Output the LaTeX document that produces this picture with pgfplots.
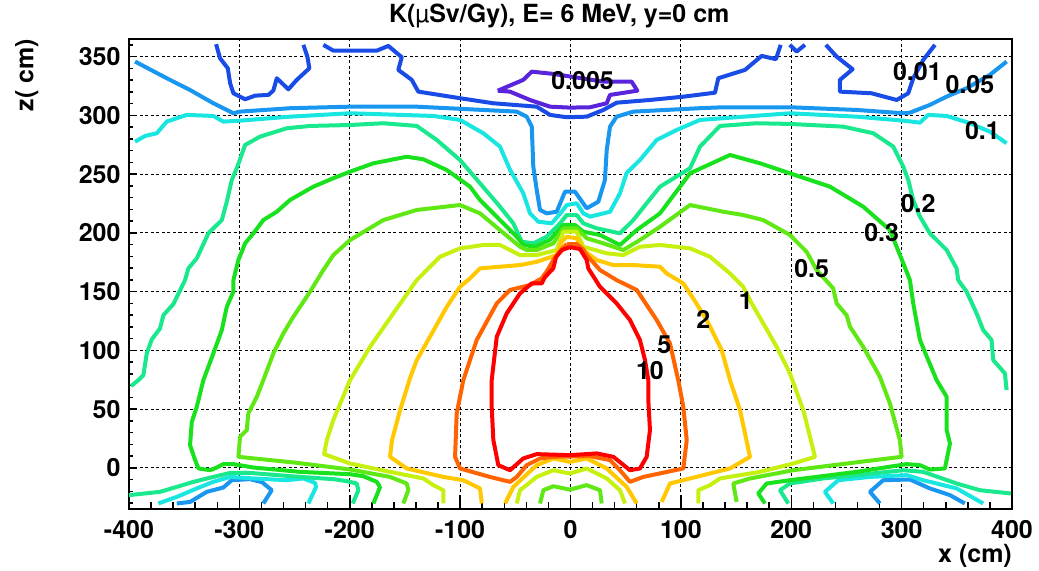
\documentclass[border=0pt]{standalone}
\usepackage{fontspec}
\setmainfont{TeX Gyre Heros}
\usepackage{pgfplots}
\pgfplotsset{compat=1.18}
\definecolor{cA}{RGB}{90,35,220}
\definecolor{cB}{RGB}{25,75,230}
\definecolor{cC}{RGB}{25,150,240}
\definecolor{cD}{RGB}{25,230,225}
\definecolor{cE}{RGB}{25,232,140}
\definecolor{cF}{RGB}{25,225,30}
\definecolor{cG}{RGB}{95,232,20}
\definecolor{cH}{RGB}{198,240,15}
\definecolor{cI}{RGB}{255,200,0}
\definecolor{cJ}{RGB}{255,100,0}
\definecolor{cK}{RGB}{255,0,0}
\begin{document}
\begin{tikzpicture}[font=\fontsize{25}{30}\selectfont\bfseries]
\begin{axis}[
  name=ax,
  scale only axis,
  width=883pt, height=470pt,
  xmin=-400, xmax=400, ymin=-35, ymax=365,
  xtick={-400,-300,...,400},
  xticklabels={-400,-300,-200,-100,0,100,200,300,400},
  ytick={0,50,...,350},
  yticklabels={0,50,100,150,200,250,300,350},
  minor xtick={-380,-360,...,380},
  minor ytick={-30,-20,...,360},
  tick pos=left,
  tick align=inside,
  grid=major,
  major grid style={black, line width=1.1pt, dash pattern=on 3pt off 2.5pt},
  axis line style={line width=1.7pt},
  tick style={black, line width=1.5pt},
  xtick style={/pgfplots/major tick length=14pt,/pgfplots/minor tick length=7pt},
  ytick style={/pgfplots/major tick length=8pt,/pgfplots/minor tick length=4pt},
  xticklabel style={anchor=north, inner sep=0pt, yshift=-11pt},
  yticklabel style={anchor=east, inner sep=0pt, xshift=-8.3pt},
  title={K({\mdseries µ}Sv/Gy), E= 6 MeV, y=0 cm},
  title style={at={(axis description cs:0.4872,1)}, anchor=base, yshift=10.7pt, inner sep=0pt},
  xlabel={x (cm)},
  xlabel style={at={(axis description cs:1,0)}, anchor=base east, yshift=-54pt, inner sep=0pt},
  ylabel={z( cm)},
  ylabel style={at={([xshift=-95.7pt]axis description cs:0,1)}, anchor=base east, inner sep=0pt},
  every axis plot/.append style={line width=4pt, line join=round, no markers},
]
% 0.005
\addplot[cA] coordinates {(-65.9,321.0) (-42.8,330.2) (-35.1,337.2) (-15.6,335.3) (29.7,328.7) (55.4,328.7) (60.5,321.0) (35.8,317.4) (32.8,310.3) (17.7,306.9) (-0.5,306.6) (-18.6,307.4) (-36.7,313.1) (-54.8,320.2) (-65.9,321.0)};
% 0.01
\addplot[cB] coordinates {(-321.1,360.6) (-317.5,348.6) (-310.5,340.1) (-308.4,327.4) (-305.4,318.8) (-294.8,313.7) (-285.7,316.8) (-273.7,317.4) (-269.2,321.1) (-266.1,331.6) (-255.6,322.2) (-248.0,330.2) (-236.6,340.1) (-238.4,350.0) (-242.0,360.0)};
\addplot[cB] coordinates {(-223.9,360.0) (-214.9,355.1) (-199.7,355.1) (-175.5,355.1) (-165.0,359.1) (-152.9,349.5) (-156.0,338.7) (-143.8,330.2) (-137.9,320.2) (-100.1,314.6) (-69.9,310.3) (-30.6,307.4) (-18.6,300.4) (-3.4,298.4) (14.7,298.9) (29.7,304.6) (41.8,310.8) (72.0,313.1) (102.2,315.9) (130.9,319.3) (133.9,331.6) (158.1,338.7) (173.2,350.6) (186.1,347.8) (190.4,360.0)};
\addplot[cB] coordinates {(198.7,360.0) (204.9,354.3) (212.4,360.0)};
\addplot[cB] coordinates {(231.4,360.0) (241.1,350.0) (255.6,339.3) (244.1,330.2) (244.1,320.2) (272.8,318.8) (295.5,313.1) (306.0,318.8) (310.5,331.6) (319.6,347.2) (330.2,360.0)};
% 0.05
\addplot[cC] coordinates {(-394.5,345.8) (-365.8,331.6) (-344.7,321.6) (-323.6,310.3) (-305.4,301.8) (-299.4,303.2) (-254.1,306.1) (-199.7,307.4) (-139.3,307.4) (-79.0,304.6) (-48.7,303.2) (-39.7,298.9) (-35.1,290.4) (-33.7,256.3) (-30.6,236.5) (-27.6,219.5) (-21.6,216.6) (-12.5,218.0) (-5.0,235.0) (4.1,235.0) (14.7,220.9) (25.2,226.5) (31.2,245.0) (32.8,270.5) (35.8,290.4) (41.8,298.9) (56.9,303.2) (117.3,306.1) (138.4,306.9) (198.8,306.9) (259.2,304.6) (301.5,301.8) (307.5,302.3) (325.6,308.9) (340.8,316.0) (358.9,323.1) (380.0,334.5) (395.1,345.8)};
\addplot[cC] coordinates {(-356.7,-30.3) (-344.7,-29.0) (-329.5,-20.4) (-314.5,-16.7) (-306.9,-10.5) (-290.3,-9.6) (-279.4,-12.2) (-270.7,-19.0) (-278.3,-30.3)};
\addplot[cC] coordinates {(357.3,-30.3) (343.8,-23.2) (325.6,-17.5) (307.5,-9.9) (283.3,-10.5) (271.3,-20.4) (280.3,-30.3)};
% 0.1
\addplot[cD] coordinates {(-394.5,277.6) (-385.4,282.5) (-374.8,284.8) (-365.8,294.7) (-347.7,300.4) (-323.6,299.5) (-314.5,294.7) (-299.4,295.5) (-254.1,298.9) (-199.7,301.8) (-124.3,299.5) (-100.1,296.1) (-79.0,284.8) (-63.9,273.4) (-54.8,253.7) (-42.8,233.7) (-36.7,216.6) (-29.2,209.5) (-17.0,208.1) (-8.0,218.0) (-3.4,223.7) (5.6,225.2) (11.6,216.6) (17.7,213.8) (35.8,218.0) (44.8,233.7) (50.9,251.0) (62.9,262.0) (78.1,279.1) (96.2,287.6) (117.3,296.1) (198.8,301.8) (259.2,298.9) (301.5,295.5) (316.6,293.8) (324.1,300.4) (340.8,299.5) (361.9,293.3) (380.0,286.1) (395.1,276.3)};
\addplot[cD] coordinates {(-373.4,-30.3) (-356.7,-24.7) (-338.6,-17.5) (-323.6,-11.9) (-308.4,-7.7) (-287.3,-9.0) (-257.1,-10.5) (-242.0,-9.0) (-231.4,-12.8) (-230.5,-16.2) (-237.5,-30.3)};
\addplot[cD] coordinates {(373.9,-30.3) (349.8,-17.5) (319.6,-10.5) (304.5,-6.2) (271.3,-7.7) (242.6,-10.5) (230.5,-20.4) (238.0,-30.3)};
% 0.2
\addplot[cE] coordinates {(-398.1,69.6) (-391.5,74.7) (-387.0,78.9) (-383.9,97.4) (-379.4,109.3) (-371.9,118.7) (-368.8,130.0) (-359.8,139.4) (-352.2,154.1) (-349.2,159.8) (-346.2,169.8) (-338.6,178.3) (-328.1,199.6) (-315.9,210.9) (-311.4,226.5) (-306.9,245.0) (-301.8,256.3) (-294.8,274.8) (-281.3,281.9) (-257.1,289.0) (-236.0,291.0) (-199.7,291.8) (-169.6,293.3) (-139.3,291.0) (-121.2,279.1) (-100.1,262.0) (-82.0,242.2) (-63.9,222.3) (-51.8,208.1) (-44.2,192.5) (-33.7,191.1) (-21.6,196.7) (-9.5,208.1) (-3.4,215.2) (5.6,215.2) (11.6,208.1) (23.7,203.9) (44.8,199.6) (56.9,210.9) (69.0,225.2) (81.1,239.3) (108.3,255.0) (117.3,273.4) (135.4,291.0) (168.7,293.3) (198.8,292.7) (247.1,290.4) (274.3,284.8) (292.4,273.4) (301.5,256.3) (306.0,245.0) (310.5,228.0) (316.6,213.8) (325.6,199.6) (340.8,185.4) (349.8,169.8) (351.3,159.8) (358.9,149.9) (367.9,131.5) (373.9,117.3) (381.5,108.8) (383.0,91.7) (393.6,80.4) (395.1,66.2)};
\addplot[cE] coordinates {(-400,-23.2) (-371.9,-20.4) (-356.7,-16.2) (-341.7,-11.9) (-323.6,-7.7) (-308.4,-4.3) (-290.3,-4.3) (-245.0,-7.7) (-214.9,-9.6) (-202.7,-11.3) (-193.7,-13.3) (-192.2,-19.0) (-197.3,-30.3)};
\addplot[cE] coordinates {(399.0,-21.8) (370.9,-19.0) (349.8,-13.3) (319.6,-3.4) (301.5,-2.0) (259.2,-6.2) (229.0,-9.0) (198.8,-13.3) (189.8,-19.0) (197.3,-30.3)};
% 0.3
\addplot[cF] coordinates {(-178.6,-30.3) (-172.6,-16.4) (-175.5,-11.9) (-187.7,-7.1) (-199.7,-5.4) (-245.0,-3.4) (-287.3,0.3) (-305.4,3.2) (-314.5,3.2) (-320.5,0.3) (-326.5,-2.0) (-337.1,-0.5) (-340.1,6.6) (-344.7,19.3) (-343.1,39.2) (-338.6,51.9) (-332.6,74.7) (-323.6,97.4) (-315.9,117.3) (-311.4,137.1) (-305.4,149.9) (-305.4,159.8) (-300.9,176.9) (-294.8,191.1) (-287.3,199.6) (-278.3,210.9) (-266.1,218.0) (-254.1,228.0) (-233.0,239.3) (-214.9,246.5) (-199.7,252.1) (-178.6,259.2) (-163.5,262.0) (-148.4,264.8) (-133.3,262.6) (-112.1,253.5) (-91.0,239.3) (-82.0,228.0) (-63.9,210.9) (-48.7,196.7) (-42.8,189.7) (-32.2,188.2) (-18.6,194.1) (-6.5,206.7) (4.1,206.7) (11.6,201.0) (26.7,198.2) (44.8,189.7) (60.0,202.4) (81.1,216.6) (108.3,250.7) (144.5,266.3) (171.7,259.2) (198.8,250.7) (235.1,239.3) (265.2,222.3) (289.4,202.4) (301.5,174.1) (307.5,159.8) (310.5,140.0) (316.6,108.8) (324.1,91.7) (331.7,74.7) (340.8,60.5) (340.8,32.1) (343.8,20.8) (339.2,-0.5) (325.6,-1.4) (316.6,2.3) (304.5,3.2) (259.2,-3.4) (198.8,-10.5) (177.7,-13.3) (170.1,-21.8) (176.2,-30.3)};
% 0.5
\addplot[cG] coordinates {(-151.5,-30.3) (-146.9,-19.0) (-148.4,-13.3) (-163.5,-7.7) (-199.7,-1.4) (-248.0,4.3) (-300.9,9.4) (-299.4,26.4) (-293.3,32.1) (-291.9,46.3) (-284.2,60.5) (-278.3,74.7) (-269.2,97.4) (-260.1,114.5) (-251.1,128.6) (-236.0,149.9) (-223.9,168.4) (-214.9,181.1) (-199.7,193.9) (-169.6,210.9) (-139.3,219.5) (-100.1,223.7) (-82.0,216.6) (-63.9,202.4) (-45.7,188.2) (-39.7,185.4) (-30.6,185.4) (-15.6,191.1) (-6.5,203.9) (5.6,203.9) (14.7,195.4) (29.7,191.1) (47.8,185.4) (62.9,193.9) (81.1,205.2) (108.3,223.7) (138.4,218.0) (156.5,215.2) (174.6,210.9) (198.8,198.2) (213.9,183.9) (223.0,168.4) (238.0,152.8) (241.1,140.0) (250.2,129.8) (253.2,120.1) (265.2,103.0) (280.3,77.5) (289.4,54.8) (298.4,23.6) (300.0,9.4) (262.2,5.1) (201.8,-2.0) (162.8,-9.0) (147.5,-13.3) (150.5,-29.0)};
\addplot[cG] coordinates {(-27.6,-30.3) (-24.6,-19.0) (-15.6,-15.6) (-0.5,-18.5) (14.7,-14.7) (26.7,-19.0) (28.3,-30.3)};
% 1
\addplot[cH] coordinates {(-115.2,-30.3) (-115.2,-19.0) (-124.3,-14.7) (-133.3,-9.0) (-163.5,-3.4) (-199.7,3.7) (-223.3,11.7) (-220.8,23.6) (-214.9,40.6) (-199.7,74.7) (-181.6,103.0) (-160.5,131.5) (-139.3,159.8) (-118.2,179.7) (-100.1,186.8) (-79.0,189.7) (-63.9,189.7) (-45.7,181.1) (-30.6,181.1) (-12.5,185.4) (-6.5,201.0) (5.6,201.0) (11.6,188.2) (32.8,182.6) (47.8,181.1) (62.9,188.2) (81.1,189.7) (108.3,186.8) (126.4,179.7) (144.5,165.5) (156.5,154.1) (164.1,140.0) (174.6,123.0) (186.8,103.0) (198.8,80.4) (210.9,49.1) (221.5,9.4) (201.8,3.7) (171.7,-3.4) (135.4,-9.0) (126.4,-14.7) (115.8,-19.0) (115.8,-30.3)};
\addplot[cH] coordinates {(-48.7,-30.3) (-45.7,-19.0) (-30.6,-7.7) (-15.6,-2.0) (-0.5,-4.8) (14.7,-0.5) (32.8,-9.0) (44.8,-19.0) (49.4,-30.3)};
% 2
\addplot[cI] coordinates {(-80.4,-30.3) (-82.0,-17.5) (-97.1,-10.5) (-115.2,-7.7) (-148.4,-0.5) (-163.5,9.4) (-161.7,23.6) (-154.4,49.1) (-145.4,76.4) (-139.3,91.7) (-127.3,111.6) (-112.1,137.1) (-100.1,154.1) (-91.0,161.3) (-82.0,169.8) (-63.9,171.2) (-45.7,172.6) (-30.6,175.4) (-12.5,181.1) (-8.0,192.5) (-3.4,196.7) (5.6,195.4) (11.6,185.4) (23.7,176.9) (38.8,172.6) (56.9,172.6) (81.1,171.2) (87.1,165.5) (102.2,157.0) (111.0,144.5) (123.4,125.8) (137.0,100.2) (144.5,74.7) (153.6,49.1) (158.1,29.3) (162.6,9.4) (144.5,-0.5) (108.3,-9.0) (90.1,-13.3) (82.6,-29.0)};
\addplot[cI] coordinates {(-59.3,-30.3) (-51.8,-16.2) (-30.6,2.3) (-15.6,8.0) (-0.5,5.1) (14.7,8.0) (32.8,-0.5) (50.9,-16.2) (60.0,-30.3)};
% 5
\addplot[cJ] coordinates {(-3.4,190.5) (-9.5,184.5) (-15.6,176.9) (-21.6,167.0) (-26.1,161.3) (-36.7,155.6) (-54.8,151.4) (-66.8,140.0) (-85.0,108.8) (-97.1,74.7) (-103.1,46.3) (-104.6,9.4) (-100.1,-0.5) (-73.0,-7.7) (-54.8,-11.9) (-48.7,-7.7) (-39.7,2.3) (-27.6,8.0) (-15.6,9.4) (17.7,10.0) (35.8,6.6) (44.8,-2.0) (53.9,-11.9) (65.9,-7.7) (102.2,-0.5) (105.3,23.6) (102.2,51.9) (97.6,74.7) (90.1,105.9) (78.1,125.8) (60.0,151.4) (41.8,159.8) (26.7,168.4) (14.7,181.1) (11.6,186.0) (5.6,190.5) (-3.4,190.5)};
% 10
\addplot[cK] coordinates {(-0.5,187.9) (8.6,186.2) (14.7,176.9) (16.1,169.8) (26.7,154.1) (41.8,140.0) (53.9,125.8) (62.9,108.8) (67.5,91.7) (70.5,74.7) (70.5,57.7) (72.0,32.1) (69.0,9.4) (62.9,-0.5) (53.9,-2.0) (38.8,9.4) (23.7,12.3) (-0.5,10.8) (-30.6,11.7) (-42.8,8.0) (-54.8,-2.0) (-65.4,2.3) (-69.9,23.6) (-71.4,51.9) (-71.4,74.7) (-66.8,111.6) (-57.8,131.5) (-45.7,148.5) (-35.1,157.0) (-26.1,157.0) (-23.1,162.4) (-15.6,169.8) (-13.1,179.4) (-7.7,185.4) (-0.5,187.9)};
% contour labels
\node[inner sep=0pt] at (axis cs:10.9,329.3) {0.005};
\node[inner sep=0pt] at (axis cs:314.3,337.2) {0.01};
\node[inner sep=0pt] at (axis cs:361.9,325.9) {0.05};
\node[inner sep=0pt] at (axis cs:373.2,286.9) {0.1};
\node[inner sep=0pt] at (axis cs:315.0,224.6) {0.2};
\node[inner sep=0pt] at (axis cs:281.9,200.3) {0.3};
\node[inner sep=0pt] at (axis cs:218.5,169.2) {0.5};
\node[inner sep=0pt] at (axis cs:158.8,142.1) {1};
\node[inner sep=0pt] at (axis cs:120.3,126.5) {2};
\node[inner sep=0pt] at (axis cs:84.9,105.2) {5};
\node[inner sep=0pt] at (axis cs:72.0,82.5) {10};
\end{axis}
\pgfresetboundingbox
\path[use as bounding box] ([xshift=-129pt,yshift=-62pt]ax.south west) rectangle ([xshift=27pt,yshift=39pt]ax.north east);
\end{tikzpicture}
\end{document}
